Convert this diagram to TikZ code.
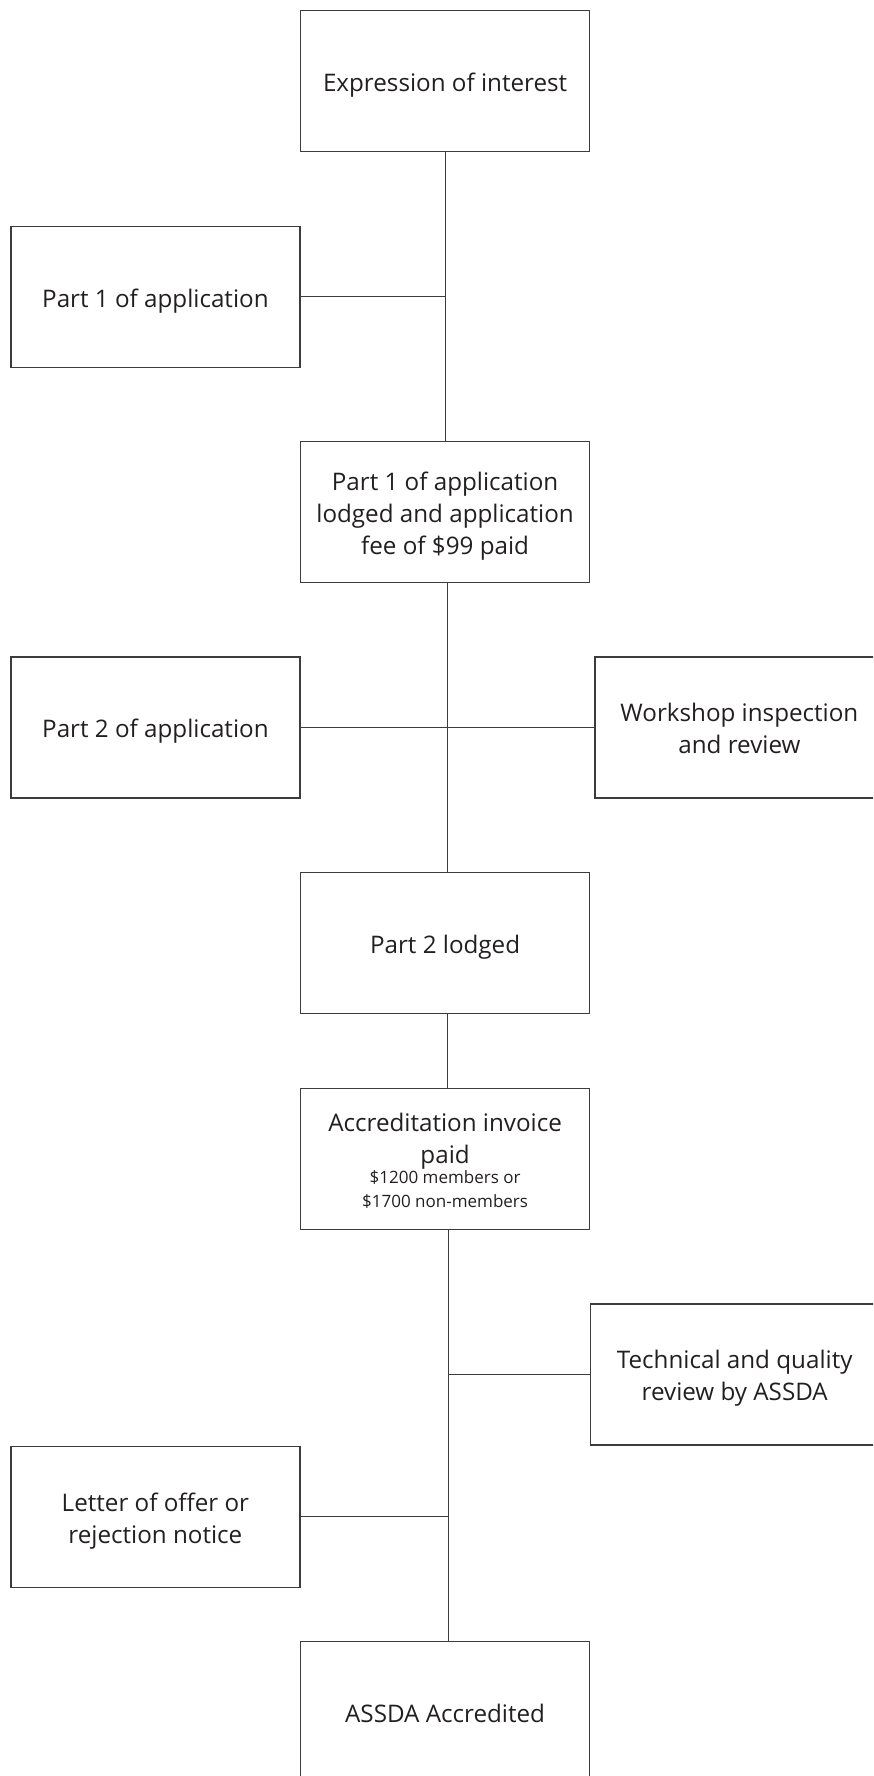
\documentclass[tikz,border=0pt]{standalone}
\usepackage{fontspec}
\setmainfont{Open Sans}
\definecolor{ink}{HTML}{231F20}
\definecolor{rule}{HTML}{3C3C3C}
\newcommand{\smalltxt}{\fontsize{17}{21}\selectfont}
\newcommand{\bt}[1]{\raisebox{-4pt}[\height][\depth]{\begin{tabular}{@{}c@{}}#1\end{tabular}}}
\begin{document}
\begin{tikzpicture}[x=1pt,y=-1pt,
  box/.style={draw=rule,line width=1.3pt,minimum width=289pt,minimum height=141pt,inner sep=0pt,text=ink,font=\fontsize{24.2}{32}\selectfont},
  link/.style={draw=rule,line width=1.2pt}]
\useasboundingbox (0,0) rectangle (873,1776);
\clip (0,0) rectangle (873,1776);
\node[box] (e1) at (445.1,81.1) {\bt{Expression of interest}};
\node[box] (p1) at (155.4,296.8) {\bt{Part 1 of application}};
\node[box] (l1) at (445.1,512) {\bt{Part 1 of application\\lodged and application\\fee of \$99 paid}};
\node[box] (p2) at (155.4,727.5) {\bt{Part 2 of application}};
\node[box] (ws) at (739.4,727.5) {\bt{Workshop inspection\\and review}};
\node[box] (l2) at (445.1,943.2) {\bt{Part 2 lodged}};
\node[box] (ai) at (445.1,1158.7) {\bt{Accreditation invoice\\paid\\[-12pt]\smalltxt \$1200 members or\\[-8pt]\smalltxt \$1700 non-members}};
\node[box] (tq) at (734.7,1374.4) {\bt{Technical and quality\\review by ASSDA}};
\node[box] (lo) at (155.4,1516.8) {\bt{Letter of offer or\\rejection notice}};
\node[box] (ac) at (445.1,1712.2) {\bt{ASSDA Accredited}};
\draw[link] (e1.south) -- (l1.north);
\draw[link] ([xshift=2pt]l1.south) -- ([xshift=2pt]l2.north);
\draw[link] ([xshift=2.5pt]l2.south) -- ([xshift=2.5pt]ai.north);
\draw[link] ([xshift=3.5pt]ai.south) -- ([xshift=3.5pt]ac.north);
\draw[link] (p1.east) -- (p1.east -| e1.south);
\draw[link] (p2.east) -- (ws.west);
\draw[link] (tq.west) -- ([xshift=3.5pt]tq.west -| ai.south);
\draw[link] (lo.east) -- ([xshift=3.5pt]lo.east -| ai.south);
\end{tikzpicture}
\end{document}
